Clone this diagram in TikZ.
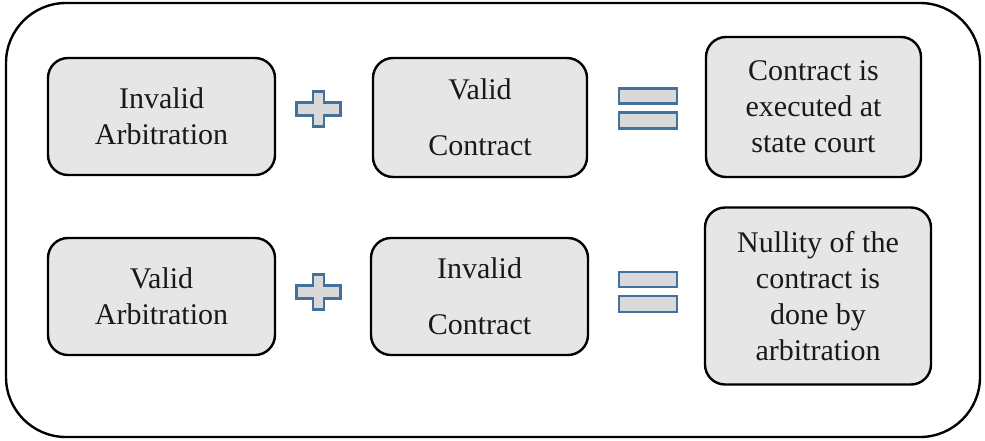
\documentclass[tikz,border=0pt]{standalone}
\usepackage{fontspec}
\setmainfont{Liberation Serif}
\usepackage{tikz}
\usetikzlibrary{positioning}
\definecolor{boxgrey}{RGB}{230,230,230}
\definecolor{signgrey}{RGB}{217,217,217}
\definecolor{signblue}{RGB}{65,113,156}

\begin{document}
\begin{tikzpicture}[
  x=0.5pt, y=-0.5pt,
  font=\fontsize{15pt}{18pt}\selectfont,
  every node/.style={align=center, inner sep=0pt},
  box/.style={rectangle, rounded corners=10pt, draw=black, line width=1.2pt,
  fill=boxgrey, text=black!90},
  sign/.style={draw=signblue, fill=signgrey, line width=1.4pt},
]
\useasboundingbox (0,0) rectangle (985,440);
% outer frame
\draw[line width=1.2pt, rounded corners=30pt] (6,3) rectangle (980,437);

% first row
\node[box, minimum width=113.5pt, minimum height=58.5pt] (invarb) at (161.5,116.5)
  {Invalid\\Arbitration};
\node[box, minimum width=107pt, minimum height=59.5pt] (valcon) at (480,117.5)
  {Valid\\[10pt]Contract};
\node[box, minimum width=107.5pt, minimum height=70pt] (court) at (813.5,107)
  {Contract is\\executed at\\state court};

% second row
\node[box, minimum width=113.5pt, minimum height=58.5pt] (valarb) at (161.5,296.5)
  {Valid\\Arbitration};
\node[box, minimum width=108.5pt, minimum height=58.5pt] (invcon) at (479.5,296.5)
  {Invalid\\[10pt]Contract};
\node[box, minimum width=113pt, minimum height=88.5pt] (nullity) at (818,296)
  {Nullity of the\\contract is\\done by\\arbitration};

% plus signs
\foreach \y in {109,292}{
  \draw[sign, shift={(318.5,\y)}]
    (-5.5,-17.5) -- (5.5,-17.5) -- (5.5,-6.5) -- (22,-6.5) -- (22,6.5)
    -- (5.5,6.5) -- (5.5,17.5) -- (-5.5,17.5) -- (-5.5,6.5) -- (-22,6.5)
    -- (-22,-6.5) -- (-5.5,-6.5) -- cycle;
}

% equals signs
\foreach \y in {108.5,292}{
  \draw[sign] (619,\y-20) rectangle (677,\y-5);
  \draw[sign] (619,\y+4) rectangle (677,\y+20);
}
\end{tikzpicture}
\end{document}
